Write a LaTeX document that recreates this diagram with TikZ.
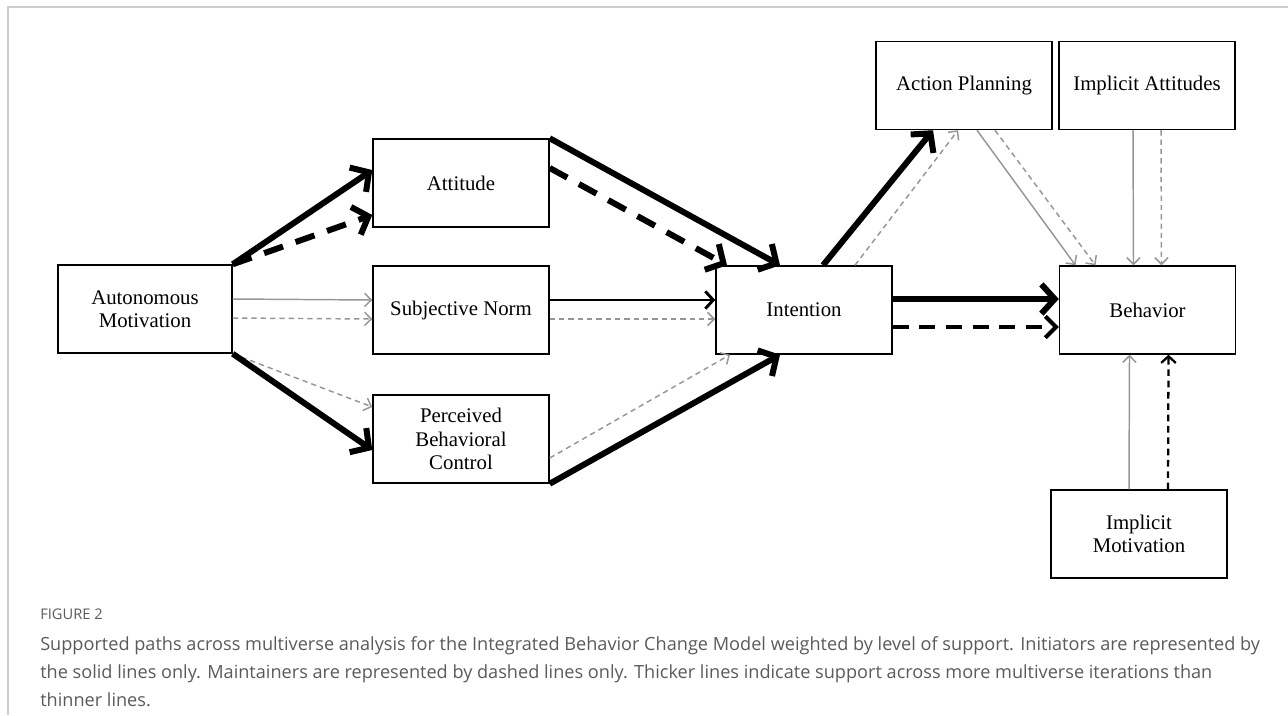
\documentclass[tikz,border=0pt]{standalone}
\usepackage{fontspec}
\setmainfont{Liberation Serif}
\newfontfamily\capfont{Open Sans}
\usetikzlibrary{arrows.meta,calc}
\definecolor{capgray}{RGB}{90,90,90}
\definecolor{framegray}{RGB}{205,205,205}
\definecolor{linegray}{RGB}{150,150,150}

\begin{document}
\begin{tikzpicture}[x=0.75pt, y=-0.75pt,
    box/.style={draw, line width=1.1pt, minimum width=132pt, minimum height=66pt,
        inner sep=0pt, align=center, font=\fontsize{15.6}{17.5}\selectfont},
    strong/.style={line width=4.5pt, -{Straight Barb[length=10pt,width=22pt]}},
    strongdash/.style={strong, dash pattern=on 15pt off 10pt},
    medium/.style={line width=2.2pt, -{Straight Barb[length=6pt,width=13pt]}},
    meddash/.style={line width=3pt, dash pattern=on 12pt off 8pt,
        -{Straight Barb[length=8pt,width=16pt]}},
    weak/.style={draw=linegray, line width=1.1pt, -{Straight Barb[length=5pt,width=10pt]}},
    weakdash/.style={weak, dash pattern=on 4pt off 3pt},
    blackdash/.style={line width=1.7pt, dash pattern=on 5pt off 3.5pt,
        -{Straight Barb[length=5pt,width=11pt]}}
]
\useasboundingbox (0,0) rectangle (1288,715);
\draw[framegray, line width=1.5pt] (8,715) -- (8,7) -- (1288,7);

% constructs
\node[box, minimum width=130.5pt] (auto) at (145,309) {Autonomous\\Motivation};
\node[box] (att) at (461,183) {Attitude};
\node[box] (sn) at (461,310) {Subjective Norm};
\node[box] (pbc) at (461,439) {Perceived\\Behavioral\\Control};
\node[box] (int) at (804,310) {Intention};
\node[box] (ap) at (964,85.5) {Action Planning};
\node[box] (ia) at (1147,85.5) {Implicit Attitudes};
\node[box] (beh) at (1147.5,310) {Behavior};
\node[box] (im) at (1139,534) {Implicit\\Motivation};

% autonomous motivation paths
\draw[strong] (auto.north east) -- ($(att.west)+(0,-13)$);
\draw[strongdash] (auto.north east) -- ($(att.west)+(0,32)$);
\draw[weak] ($(auto.east)+(0,-10)$) -- ($(sn.west)+(0,-10)$);
\draw[weakdash] ($(auto.east)+(0,9)$) -- ($(sn.west)+(0,9)$);
\draw[weakdash] (auto.south east) -- ($(pbc.west)+(0,-32)$);
\draw[strong] (auto.south east) -- ($(pbc.west)+(0,11)$);

% to intention
\draw[strong] (att.north east) -- ($(int.north)+(-24,0)$);
\draw[strongdash] ($(att.east)+(0,-15)$) -- ($(int.north)+(-77,0)$);
\draw[medium] ($(sn.east)+(0,-10)$) -- ($(int.west)+(0,-10)$);
\draw[weakdash] ($(sn.east)+(0,9)$) -- ($(int.west)+(0,9)$);
\draw[weakdash] ($(pbc.east)+(0,19)$) -- ($(int.south)+(-74,0)$);
\draw[strong] (pbc.south east) -- ($(int.south)+(-24,0)$);

% intention onwards
\draw[strong] ($(int.north)+(19,0)$) -- ($(ap.south)+(-31,0)$);
\draw[weakdash] ($(int.north)+(51,0)$) -- ($(ap.south)+(-6,0)$);
\draw[strong] ($(int.east)+(0,-11)$) -- ($(beh.west)+(0,-11)$);
\draw[meddash] ($(int.east)+(0,17)$) -- ($(beh.west)+(0,17)$);

% to behavior
\draw[weak] ($(ap.south)+(13,0)$) -- ($(beh.north)+(-72,0)$);
\draw[weakdash] ($(ap.south)+(31,0)$) -- ($(beh.north)+(-52,0)$);
\draw[weak] ($(ia.south)+(-14,0)$) -- ($(beh.north)+(-14,0)$);
\draw[weakdash] ($(ia.south)+(14,0)$) -- ($(beh.north)+(14,0)$);
\draw[weak] ($(im.north)+(-10,0)$) -- ($(beh.south)+(-18,0)$);
\draw[blackdash] ($(im.north)+(29,0)$) -- ($(beh.south)+(21,0)$);

% caption
\node[anchor=north west, inner sep=0pt, text=capgray,
    font=\capfont\fontsize{11}{13}\selectfont] (fig) at (40,609) {FIGURE 2};
\node[anchor=north west, inner sep=0pt, align=left, text=capgray,
    font=\capfont\fontsize{13.6}{21}\selectfont] (cap) at (40,636)
    {Supported paths across multiverse analysis for the Integrated Behavior Change Model weighted by level of support. Initiators are represented by\\
    the solid lines only. Maintainers are represented by dashed lines only. Thicker lines indicate support across more multiverse iterations than\\
    thinner lines.};
\end{tikzpicture}
\end{document}
